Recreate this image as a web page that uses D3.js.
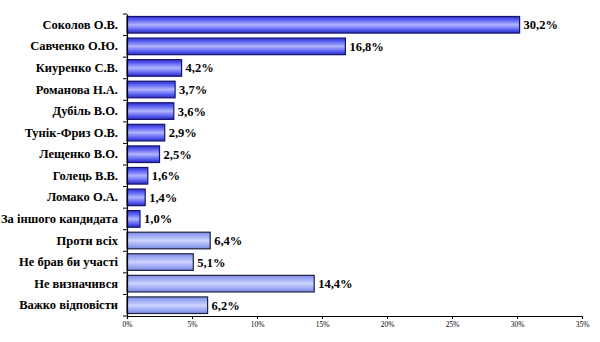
<!DOCTYPE html>
<html>
<head>
<meta charset="utf-8">
<script src="https://cdn.jsdelivr.net/npm/d3@7"></script>
<style>
  html, body { margin: 0; padding: 0; background: #fff; }
  svg { display: block; }
  svg text { font-family: "Liberation Serif", "Times New Roman", serif; }
</style>
</head>
<body>
<svg id="chart" width="600" height="342"></svg>
<script>
// Survey results, percent
const categories = [
  "Соколов О.В.", "Савченко О.Ю.", "Киуренко С.В.", "Романова Н.А.",
  "Дубіль В.О.", "Тунік-Фриз О.В.", "Лещенко В.О.", "Голець В.В.",
  "Ломако О.А.", "За іншого кандидата", "Проти всіх", "Не брав би участі",
  "Не визначився", "Важко відповісти"
];
const values = [30.2, 16.8, 4.2, 3.7, 3.6, 2.9, 2.5, 1.6, 1.4, 1.0, 6.4, 5.1, 14.4, 6.2];
const valueLabels = ["30,2%", "16,8%", "4,2%", "3,7%", "3,6%", "2,9%", "2,5%", "1,6%", "1,4%", "1,0%", "6,4%", "5,1%", "14,4%", "6,2%"];
// first ten rows are candidates, the rest are other answers
const groups = ["c","c","c","c","c","c","c","c","c","c","o","o","o","o"];
const xTicks = [0, 5, 10, 15, 20, 25, 30, 35];
const xTickLabels = ["0%", "5%", "10%", "15%", "20%", "25%", "30%", "35%"];

const svg = d3.select("#chart");
const plotLeft = 127, plotRight = 582, plotTop = 14, plotBottom = 316;

const x = d3.scaleLinear().domain([0, 35]).range([plotLeft, plotRight]);
const y = d3.scaleBand().domain(categories).range([plotTop, plotBottom]).paddingInner(0.23).paddingOuter(0.115);

// vertical gradients for the two bar groups
const defs = svg.append("defs");
function grad(id, stops) {
  const g = defs.append("linearGradient").attr("id", id)
    .attr("x1", 0).attr("y1", 0).attr("x2", 0).attr("y2", 1);
  stops.forEach(s => g.append("stop").attr("offset", s[0]).attr("stop-color", s[1]));
}
grad("gDark", [[0, "#3030cc"], [0.2, "#5a5ef2"], [0.5, "#b0b6ff"], [0.8, "#5a5ef2"], [1, "#2a2abc"]]);
grad("gLight", [[0, "#7f8ee8"], [0.25, "#a2aef6"], [0.5, "#ccd4ff"], [0.75, "#a2aef6"], [1, "#7a88e0"]]);

// bars
svg.append("g").selectAll("rect")
  .data(categories)
  .join("rect")
  .attr("x", x(0))
  .attr("y", d => y(d))
  .attr("width", (d, i) => x(values[i]) - x(0))
  .attr("height", y.bandwidth())
  .attr("fill", (d, i) => groups[i] === "c" ? "url(#gDark)" : "url(#gLight)")
  .attr("stroke", (d, i) => groups[i] === "c" ? "#14146e" : "#1e2440")
  .attr("stroke-width", 1.2);

// value labels
svg.append("g").selectAll("text")
  .data(categories)
  .join("text")
  .attr("x", (d, i) => x(values[i]) + 4)
  .attr("y", d => y(d) + y.bandwidth() / 2)
  .attr("dy", "0.36em")
  .attr("font-weight", "bold")
  .attr("font-size", 12.5)
  .attr("fill", "#000")
  .text((d, i) => valueLabels[i]);

// y axis
const yAxis = svg.append("g")
  .attr("transform", `translate(${plotLeft},0)`)
  .call(d3.axisLeft(y).tickSize(0).tickPadding(9));
yAxis.attr("font-family", null);
yAxis.select(".domain").attr("stroke", "#000").attr("stroke-width", 1.2);
yAxis.selectAll("text")
  .attr("font-weight", "bold")
  .attr("font-size", 12.5)
  .attr("fill", "#000");
// category separator ticks
const step = y.step();
svg.append("g").selectAll("line")
  .data(d3.range(categories.length + 1))
  .join("line")
  .attr("x1", plotLeft - 4).attr("x2", plotLeft)
  .attr("y1", i => plotTop + i * step).attr("y2", i => plotTop + i * step)
  .attr("stroke", "#000");

// x axis
const xAxis = svg.append("g")
  .attr("transform", `translate(0,${plotBottom})`)
  .call(d3.axisBottom(x).tickValues(xTicks).tickFormat((d, i) => xTickLabels[i]).tickSizeOuter(0).tickSize(3).tickPadding(3));
xAxis.attr("font-family", null);
xAxis.select(".domain").attr("stroke", "#000").attr("stroke-width", 1.2);
xAxis.selectAll("line").attr("stroke", "#000");
xAxis.selectAll("text")
  .attr("font-size", 7.5)
  .attr("fill", "#000");
</script>
</body>
</html>
